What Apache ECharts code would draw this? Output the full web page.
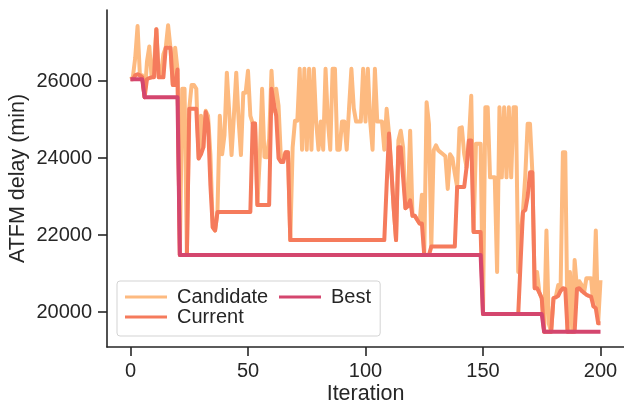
<!DOCTYPE html>
<html><head><meta charset="utf-8">
<script src="https://cdn.jsdelivr.net/npm/echarts@6/dist/echarts.min.js"></script>
<style>html,body{margin:0;padding:0;background:#fff}#c{width:624px;height:412px}</style>
</head><body><div id="c"></div>
<script>
const seriesNames = ['Candidate', 'Current', 'Best'];
const xTicks = [0, 50, 100, 150, 200];
const yTicks = [20000, 22000, 24000, 26000];

const candidate = [
26050,26100,26600,27430,26150,26150,25580,26500,26900,26100,
26400,27350,26100,26200,26700,26870,27450,26870,25900,26870,
26300,21480,25800,25800,21480,25280,25900,25900,25800,23990,
25100,24280,25230,25100,24100,22200,22120,22600,25100,24100,
24600,26220,25200,24080,25100,26220,25000,24080,25700,25700,
26270,25100,24900,24900,22780,24000,25800,24030,24020,24500,
26270,25230,25800,25360,24000,24000,24150,24150,21870,24280,
24970,24970,26320,24220,26320,24220,26320,24220,26320,24950,
24220,24950,24220,26320,24950,24220,26320,26320,24220,24220,
24950,24950,24220,25300,26320,25300,24950,24950,24950,26320,
24950,26320,24950,24220,26320,24950,24950,24950,24220,25280,
24640,23700,22700,21870,24460,24710,24280,22700,22750,24710,
22500,22500,22400,22300,23050,21480,25450,24890,21700,24200,
24330,24200,24150,24100,24050,23200,24100,24000,23600,23250,
24780,24800,24100,23760,24460,25620,22080,24370,24370,24370,
19950,25320,25320,23500,23500,23500,21040,25320,23500,25320,
23500,25320,23500,25320,25320,21040,22000,22600,23550,24890,
24890,23630,20620,21040,20500,20360,19490,22120,19700,19490,
20360,20400,20700,20550,24150,24150,19490,21040,19490,21350,
20600,20800,20700,20500,20880,20880,20880,20150,22120,19710,
20830
];

const current = [
26050,26050,26150,26180,26150,26100,25580,26050,26080,26100,
26100,27350,26100,26100,26100,26870,26870,26870,25900,25900,
26300,21480,21480,21480,21480,25280,25280,25280,25280,23990,
24100,24280,25200,24900,23300,22200,22120,22600,22600,22600,
22600,22600,22600,22600,22600,22600,22600,22600,22600,22600,
22600,22600,24900,24900,22780,22780,22780,22780,22780,22780,
25800,25400,25100,24000,23900,23900,24150,24150,21870,21870,
21870,21870,21870,21870,21870,21870,21870,21870,21870,21870,
21870,21870,21870,21870,21870,21870,21870,21870,21870,21870,
21870,21870,21870,21870,21870,21870,21870,21870,21870,21870,
21870,21870,21870,21870,21870,21870,21870,21870,21870,23300,
24640,23700,22700,21870,24280,24280,23500,22700,22750,22900,
22500,22500,22400,22300,22300,21480,21480,21480,21700,21700,
21700,21700,21700,21700,21700,21700,21700,21700,21700,23250,
23250,23250,23250,23760,24460,24460,22080,22080,22080,22080,
19950,19950,19950,19950,19950,19950,19950,19950,19950,19950,
19950,19950,19950,19950,19950,19950,21300,22600,22650,23000,
23630,23630,20620,20620,20500,20360,19490,19490,19490,19490,
20360,20380,20420,20550,20620,20600,19490,19490,19490,19490,
20600,20620,20550,20500,20450,20420,20400,20150,20100,19710,
19710
];

const best = [
26050,26050,26050,26050,26050,26050,25580,25580,25580,25580,
25580,25580,25580,25580,25580,25580,25580,25580,25580,25580,
25580,21480,21480,21480,21480,21480,21480,21480,21480,21480,
21480,21480,21480,21480,21480,21480,21480,21480,21480,21480,
21480,21480,21480,21480,21480,21480,21480,21480,21480,21480,
21480,21480,21480,21480,21480,21480,21480,21480,21480,21480,
21480,21480,21480,21480,21480,21480,21480,21480,21480,21480,
21480,21480,21480,21480,21480,21480,21480,21480,21480,21480,
21480,21480,21480,21480,21480,21480,21480,21480,21480,21480,
21480,21480,21480,21480,21480,21480,21480,21480,21480,21480,
21480,21480,21480,21480,21480,21480,21480,21480,21480,21480,
21480,21480,21480,21480,21480,21480,21480,21480,21480,21480,
21480,21480,21480,21480,21480,21480,21480,21480,21480,21480,
21480,21480,21480,21480,21480,21480,21480,21480,21480,21480,
21480,21480,21480,21480,21480,21480,21480,21480,21480,21480,
19950,19950,19950,19950,19950,19950,19950,19950,19950,19950,
19950,19950,19950,19950,19950,19950,19950,19950,19950,19950,
19950,19950,19950,19950,19950,19950,19490,19490,19490,19490,
19490,19490,19490,19490,19490,19490,19490,19490,19490,19490,
19490,19490,19490,19490,19490,19490,19490,19490,19490,19490,
19490
];

const colors = ['#fdba80', '#f57b5c', '#d4466e'];
const seriesData = [candidate, current, best];

const chart = echarts.init(document.getElementById('c'), null, {renderer: 'canvas'});
const axisColor = '#262626';
const legendCommon = {
  orient: 'vertical', icon: 'rect',
  itemWidth: 42, itemHeight: 3, itemGap: 0,
  textStyle: {fontSize: 20, color: axisColor, padding: [0, 0, 0, 5]}
};
chart.setOption({
  animation: false,
  textStyle: {fontFamily: 'Liberation Sans, Arial, sans-serif'},
  grid: {left: 107, right: 0, top: 10, bottom: 65, containLabel: false, outerBoundsMode: 'none'},
  xAxis: {
    type: 'value', min: -10, max: 210,
    name: 'Iteration', nameLocation: 'middle', nameGap: 36, nameMoveOverlap: false,
    nameTextStyle: {fontSize: 21.5, color: axisColor},
    axisLine: {show: true, onZero: false, lineStyle: {color: axisColor, width: 1.6}},
    axisTick: {show: true, customValues: xTicks, length: 9, lineStyle: {color: axisColor, width: 1.6}},
    axisLabel: {customValues: xTicks, fontSize: 20, color: axisColor, margin: 14,
      formatter: v => String(v)},
    splitLine: {show: false}
  },
  yAxis: {
    type: 'value', min: 19092, max: 27848,
    name: 'ATFM delay (min)', nameLocation: 'middle', nameGap: 78, nameMoveOverlap: false,
    nameTextStyle: {fontSize: 21.5, color: axisColor},
    axisLine: {show: true, onZero: false, lineStyle: {color: axisColor, width: 1.6}},
    axisTick: {show: true, customValues: yTicks, length: 9, lineStyle: {color: axisColor, width: 1.6}},
    axisLabel: {customValues: yTicks, fontSize: 20, color: axisColor, margin: 15,
      formatter: v => String(v)},
    splitLine: {show: false}
  },
  legend: [
    Object.assign({}, legendCommon, {
      data: [seriesNames[0], seriesNames[1]],
      left: 117, top: 281,
      padding: [6, 112, 9, 8],
      borderColor: '#d3d3d3', borderWidth: 1, borderRadius: 3,
      backgroundColor: 'rgba(255,255,255,0.8)'
    }),
    Object.assign({}, legendCommon, {
      data: [seriesNames[2]],
      left: 279, top: 287, padding: 0
    })
  ],
  series: seriesNames.map((name, k) => ({
    name: name, type: 'line', symbol: 'none',
    data: seriesData[k].map((v, i) => [i, v]),
    lineStyle: {width: 4, color: colors[k], join: 'round'},
    itemStyle: {color: colors[k]},
    emphasis: {disabled: true}
  }))
});
</script></body></html>
